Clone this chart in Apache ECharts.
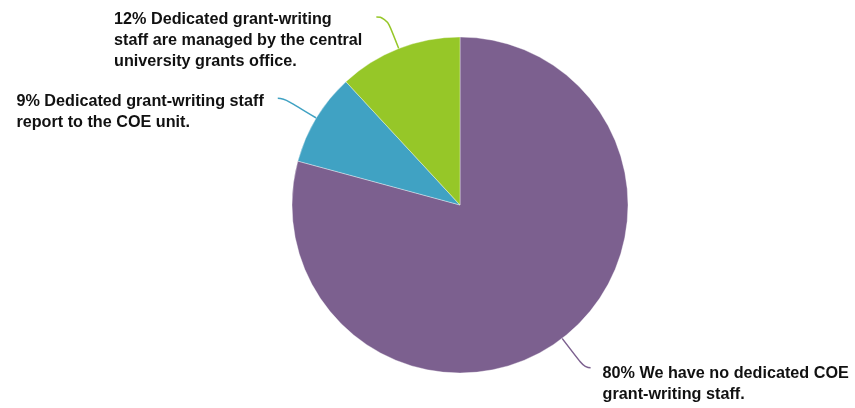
<!DOCTYPE html>
<html>
<head>
<meta charset="utf-8">
<script src="https://cdn.jsdelivr.net/npm/echarts@6/dist/echarts.min.js"></script>
<style>
html,body{margin:0;padding:0;background:#fff;}
#chart{width:855px;height:408px;}
</style>
</head>
<body>
<div id="chart"></div>
<script>
const categories = [
  "We have no dedicated COE\ngrant-writing staff.",
  "Dedicated grant-writing staff\nreport to the COE unit.",
  "Dedicated grant-writing\nstaff are managed by the central\nuniversity grants office."
];
const values = [80, 9, 12];
const colors = ['#7C608F', '#40A2C3', '#96C728'];

// per-slice label placement (styles only)
const labelLineLen = [37, 38, 34];
const labelLineLen2 = [6, 6, 10];
const labelGap = [12, 14, 14];
const labelPadTop = [32, 27, 47];

const chart = echarts.init(document.getElementById('chart'), null, {renderer: 'canvas'});

const data = values.map((v, i) => ({
  name: categories[i],
  value: v,
  itemStyle: {color: colors[i]},
  label: {
    distanceToLabelLine: labelGap[i],
    padding: [labelPadTop[i], 0, 0, 0]
  },
  labelLine: {
    length: labelLineLen[i],
    length2: labelLineLen2[i],
    lineStyle: {color: colors[i]}
  }
}));

chart.setOption({
  animation: false,
  backgroundColor: '#ffffff',
  series: [{
    type: 'pie',
    center: [460, 205],
    radius: 168,
    startAngle: 90,
    clockwise: true,
    avoidLabelOverlap: false,
    itemStyle: {borderColor: 'rgba(255,255,255,0.6)', borderWidth: 0.6},
    label: {
      show: true,
      position: 'outside',
      formatter: function (p) {
        return (p.value + '% ' + p.name).split('\n').map(l => '{t|' + l + '}').join('\n');
      },
      rich: {
        t: {
          align: 'left',
          fontFamily: '"Liberation Sans", Arial, sans-serif',
          fontWeight: 'bold',
          fontSize: 16.2,
          lineHeight: 21,
          color: '#111111'
        }
      }
    },
    labelLine: {
      show: true,
      smooth: 0.6,
      lineStyle: {width: 1.5}
    },
    emphasis: {disabled: true},
    data: data
  }]
});
</script>
</body>
</html>
